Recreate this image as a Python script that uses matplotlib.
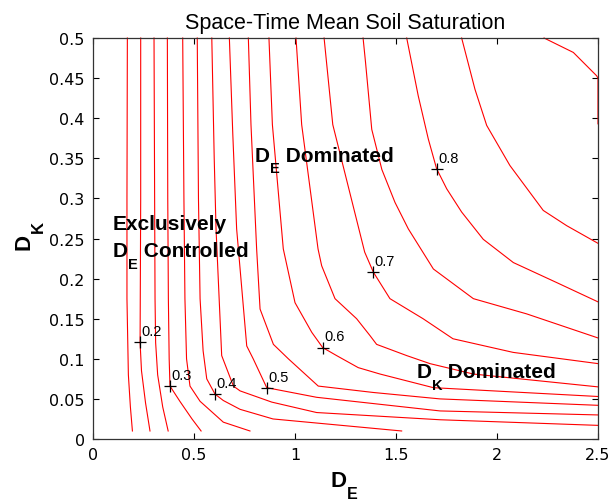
import matplotlib
matplotlib.use("Agg")
import matplotlib.pyplot as plt

plt.rcParams['font.family'] = ['Liberation Sans', 'DejaVu Sans']

# contour lines (D_E, D_K)
c015_x = [0.170, 0.168, 0.168, 0.175, 0.185, 0.195]
c015_y = [0.500, 0.300, 0.175, 0.080, 0.040, 0.010]
c020_x = [0.236, 0.236, 0.233, 0.240, 0.260, 0.282]
c020_y = [0.500, 0.300, 0.120, 0.085, 0.045, 0.010]
c025_x = [0.302, 0.305, 0.307, 0.310, 0.320, 0.345, 0.372]
c025_y = [0.500, 0.300, 0.175, 0.120, 0.080, 0.040, 0.010]
c030_x = [0.368, 0.370, 0.373, 0.377, 0.381, 0.430, 0.490, 0.535]
c030_y = [0.500, 0.300, 0.175, 0.100, 0.066, 0.047, 0.025, 0.010]
c035_x = [0.444, 0.450, 0.455, 0.463, 0.480, 0.530, 0.645, 0.777]
c035_y = [0.500, 0.300, 0.175, 0.100, 0.066, 0.047, 0.021, 0.010]
c040_x = [0.516, 0.522, 0.530, 0.545, 0.563, 0.604, 0.645, 0.728, 0.891, 1.528]
c040_y = [0.500, 0.300, 0.175, 0.110, 0.075, 0.056, 0.048, 0.037, 0.025, 0.010]
c045_x = [0.588, 0.600, 0.609, 0.637, 0.695, 0.728, 0.885, 1.107, 1.718, 2.500]
c045_y = [0.500, 0.350, 0.262, 0.104, 0.066, 0.060, 0.046, 0.033, 0.024, 0.017]
c050_x = [0.675, 0.692, 0.711, 0.761, 0.793, 0.860, 1.107, 1.718, 2.500]
c050_y = [0.500, 0.380, 0.262, 0.116, 0.100, 0.064, 0.052, 0.035, 0.030]
c055_x = [0.769, 0.782, 0.810, 0.827, 0.893, 0.967, 1.115, 1.388, 1.718, 2.500]
c055_y = [0.500, 0.392, 0.237, 0.162, 0.118, 0.100, 0.066, 0.058, 0.050, 0.042]
c060_x = [0.871, 0.888, 0.942, 1.000, 1.083, 1.137, 1.206, 1.313, 1.421, 1.685, 2.500]
c060_y = [0.500, 0.392, 0.237, 0.170, 0.133, 0.114, 0.104, 0.089, 0.081, 0.064, 0.053]
c065_x = [1.005, 1.033, 1.114, 1.132, 1.198, 1.305, 1.371, 1.404, 1.553, 1.668, 1.883, 2.500]
c065_y = [0.500, 0.392, 0.237, 0.216, 0.175, 0.150, 0.129, 0.118, 0.104, 0.094, 0.081, 0.065]
c070_x = [1.144, 1.187, 1.345, 1.388, 1.470, 1.634, 1.782, 2.080, 2.500]
c070_y = [0.500, 0.392, 0.233, 0.208, 0.175, 0.150, 0.125, 0.108, 0.094]
c075_x = [1.337, 1.349, 1.380, 1.430, 1.495, 1.561, 1.685, 1.883, 2.147, 2.500]
c075_y = [0.500, 0.470, 0.386, 0.336, 0.295, 0.262, 0.212, 0.175, 0.156, 0.126]
c080_x = [1.553, 1.610, 1.660, 1.701, 1.751, 1.825, 1.932, 2.081, 2.296, 2.500]
c080_y = [0.500, 0.428, 0.374, 0.337, 0.312, 0.283, 0.249, 0.220, 0.195, 0.171]
c085_x = [1.825, 1.891, 1.949, 2.064, 2.229, 2.345, 2.500]
c085_y = [0.500, 0.436, 0.391, 0.341, 0.285, 0.266, 0.244]
c090_x = [2.233, 2.378, 2.493, 2.500, 2.500]
c090_y = [0.500, 0.482, 0.453, 0.450, 0.393]

# inline labels (clabel style)
lab_text = ['0.2', '0.3', '0.4', '0.5', '0.6', '0.7', '0.8']
lab_x = [0.233, 0.381, 0.604, 0.860, 1.137, 1.388, 1.701]
lab_y = [0.121, 0.066, 0.056, 0.064, 0.114, 0.208, 0.337]

x_ticks = [0, 0.5, 1, 1.5, 2, 2.5]
x_ticklabels = ['0', '0.5', '1', '1.5', '2', '2.5']
y_ticks = [0, 0.05, 0.1, 0.15, 0.2, 0.25, 0.3, 0.35, 0.4, 0.45, 0.5]
y_ticklabels = ['0', '0.05', '0.1', '0.15', '0.2', '0.25', '0.3', '0.35', '0.4', '0.45', '0.5']

lines = [
    (c015_x, c015_y), (c020_x, c020_y), (c025_x, c025_y), (c030_x, c030_y),
    (c035_x, c035_y), (c040_x, c040_y), (c045_x, c045_y), (c050_x, c050_y),
    (c055_x, c055_y), (c060_x, c060_y), (c065_x, c065_y), (c070_x, c070_y),
    (c075_x, c075_y), (c080_x, c080_y), (c085_x, c085_y), (c090_x, c090_y),
]

fig = plt.figure(figsize=(6.1, 5.02), dpi=100)
ax = fig.add_axes([0.1525, 0.1235, 0.8278, 0.7988])


def sub_label(x, y, main, sub, rest='', size=15, subsize=10.5, drop=3.5, trans=None):
    # big letter, low subscript, then the rest on the main baseline
    trans = trans or ax.transData
    t1 = ax.text(x, y, main, fontsize=size, fontweight='bold', transform=trans,
                 ha='left', va='baseline')
    t2 = ax.annotate(sub, xy=(1, 0), xycoords=t1, xytext=(0.5, drop),
                     textcoords='offset pixels', fontsize=subsize,
                     fontweight='bold', ha='left', va='top')
    if rest:
        ax.annotate(rest, xy=(1, 0), xycoords=(t2, t1), fontsize=size,
                    fontweight='bold', ha='left', va='bottom')


for xs, ys in lines:
    ax.plot(xs, ys, color='#ff0000', lw=0.8, clip_on=False)

for t, x, y in zip(lab_text, lab_x, lab_y):
    ax.plot(x, y, marker='+', color='black', ms=8, mew=0.9)
    ax.annotate(t, (x, y), xytext=(1, 3), textcoords='offset points',
                fontsize=10.5, color='black', ha='left', va='bottom')

ax.text(0.0965, 0.262, 'Exclusively', fontsize=15, fontweight='bold', va='baseline')
sub_label(0.0965, 0.228, 'D', 'E', ' Controlled')
sub_label(0.800, 0.347, 'D', 'E', ' Dominated')
sub_label(1.600, 0.077, 'D', 'K', ' Dominated')

ax.set_xlim(0, 2.5)
ax.set_ylim(0, 0.5)
ax.set_xticks(x_ticks)
ax.set_xticklabels(x_ticklabels)
ax.set_yticks(y_ticks)
ax.set_yticklabels(y_ticklabels)
ax.tick_params(direction='in', length=4, width=0.8, top=True, right=True,
               labelsize=11.5, pad=6)
for lab in ax.get_xticklabels() + ax.get_yticklabels():
    lab.set_fontfamily('DejaVu Sans')
for s in ax.spines.values():
    s.set_linewidth(0.9)
    s.set_color('#333333')

ax.set_title('Space-Time Mean Soil Saturation', fontsize=15.5, pad=7)

# axis labels D_E and D_K
sub_label(0.470, -0.1172, 'D', 'E', size=16, subsize=11.5, drop=4.5,
          trans=ax.transAxes)
ax.text(-0.1267, 0.474, 'D', fontsize=16, fontweight='bold', rotation=90,
        rotation_mode='anchor', ha='left', va='baseline', transform=ax.transAxes)
ax.text(-0.1235, 0.516, 'K', fontsize=12, fontweight='bold', rotation=90,
        rotation_mode='anchor', ha='left', va='top', transform=ax.transAxes)

fig.savefig('out.png', dpi=100)
